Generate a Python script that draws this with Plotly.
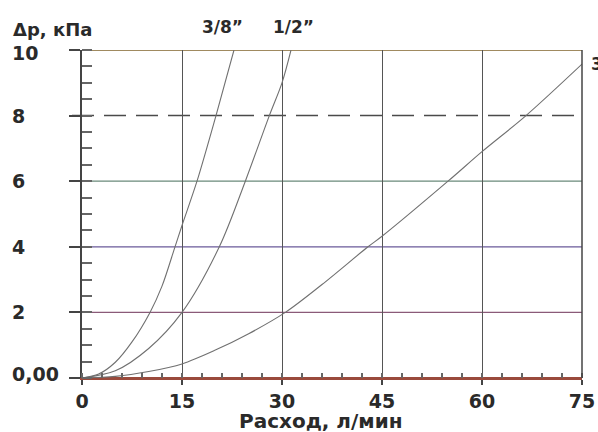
import plotly.graph_objects as go

# Data
q_38 = [0, 2.5, 5, 7.5, 10.2, 12, 13.95, 15, 17.25, 20.1, 22.8]
dp_38 = [0, 0.12, 0.48, 1.1, 2, 2.8, 4, 4.65, 6, 8, 10]

q_12 = [0, 5, 10, 15, 20.6, 24.5, 28.1, 30, 31.35]
dp_12 = [0, 0.22, 0.9, 2, 4, 6, 8, 9, 10]

q_34 = [0, 5, 10, 15, 20, 25, 30.5, 36, 42.9, 45, 54.9, 60, 66.6, 75]
dp_34 = [0, 0.05, 0.2, 0.43, 0.85, 1.35, 2, 2.85, 4, 4.32, 6, 6.9, 8, 9.57]

series_names = ["3/8”", "1/2”", "3/4”"]
label_x = [21.0, 31.7]

x_ticks = [0, 15, 30, 45, 60, 75]
y_levels = [0, 2, 4, 6, 10]
y_level_colors = ["#9a4a3c", "#8a5a78", "#6a5a9a", "#6a8a7a", "#a08a60"]
y_labels = ["0,00", "2", "4", "6", "8", "10"]
y_label_vals = [0, 2, 4, 6, 8, 10]
limit_dp = 8

FONT = "DejaVu Sans"
CURVE = "#707070"
TXT = "#2a2a2a"

fig = go.Figure()
for q, dp, name in zip([q_38, q_12, q_34], [dp_38, dp_12, dp_34], series_names):
    fig.add_trace(go.Scatter(x=q, y=dp, mode="lines", name=name,
                             line=dict(color=CURVE, width=1.1, shape="spline", smoothing=0.9),
                             showlegend=False))

shapes = []
for lv, col in zip(y_levels, y_level_colors):
    shapes.append(dict(type="line", xref="paper", yref="y", x0=0, x1=1, y0=lv, y1=lv,
                       line=dict(color=col, width=1.8 if lv in (0, 10) else 1.2), layer="below"))
shapes.append(dict(type="line", xref="paper", yref="y", x0=-0.02, x1=1, y0=limit_dp, y1=limit_dp,
                   line=dict(color="#4a4a4a", width=1.5, dash="22px,10px"), layer="below"))
shapes.append(dict(type="line", xref="paper", yref="paper", x0=1, x1=1, y0=0, y1=1,
                   line=dict(color="#444444", width=1.5)))

annotations = []
for t, v in zip(y_labels, y_label_vals):
    annotations.append(dict(text="<b>%s</b>" % t, xref="paper", yref="y", x=0, y=v,
                            xanchor="left", yanchor="middle", xshift=-72,
                            yshift=4 if v == 0 else (-3 if v == 10 else 0), showarrow=False,
                            font=dict(family=FONT, size=19, color=TXT)))
annotations.append(dict(text="<b>Δp, кПа</b>", xref="paper", yref="paper", x=0, y=1,
                        xanchor="left", yanchor="middle", xshift=-71, yshift=21,
                        showarrow=False, font=dict(family=FONT, size=18, color=TXT)))
for lx, nm in zip(label_x, series_names[:2]):
    annotations.append(dict(text="<b>%s</b>" % nm, xref="x", yref="paper", x=lx, y=1,
                            xanchor="center", yanchor="middle", yshift=23,
                            showarrow=False, font=dict(family=FONT, size=17, color=TXT)))
annotations.append(dict(text="<b>%s</b>" % series_names[2], xref="x", yref="y", x=q_34[-1], y=dp_34[-1],
                        xanchor="left", yanchor="middle", xshift=7,
                        showarrow=False, font=dict(family=FONT, size=17, color=TXT)))
annotations.append(dict(text="<b>Расход, л/мин</b>", xref="paper", yref="paper", x=0.5, y=0,
                        xanchor="center", yanchor="middle", yshift=-43, xshift=-11,
                        showarrow=False, font=dict(family=FONT, size=20, color=TXT)))

fig.update_layout(
    width=598, height=432,
    margin=dict(l=82, r=16, t=50, b=54, autoexpand=False),
    paper_bgcolor="white", plot_bgcolor="white",
    shapes=shapes, annotations=annotations,
    xaxis=dict(range=[0, 75], tickvals=x_ticks, ticktext=["<b>%d</b>" % v for v in x_ticks],
               automargin=False,
               showgrid=True, gridcolor="#555555", gridwidth=1, zeroline=False,
               showline=True, linecolor="#9a4a3c", linewidth=2,
               ticks="outside", ticklen=5, tickcolor="#444444", tickwidth=1.5,
               ticklabeloverflow="allow",
               minor=dict(dtick=3, ticks="inside", ticklen=5, tickcolor="#666666", showgrid=False),
               tickfont=dict(family=FONT, size=19, color=TXT)),
    yaxis=dict(range=[0, 10], tickvals=y_label_vals, showticklabels=False,
               automargin=False,
               showgrid=False, zeroline=False,
               showline=True, linecolor="#444444", linewidth=1.5,
               ticks="outside", ticklen=11, tickcolor="#444444", tickwidth=1.5,
               minor=dict(dtick=0.5, ticks="inside", ticklen=10, tickcolor="#666666", showgrid=False)),
)

fig.write_html("out.html", config={"displayModeBar": False},
               post_script="document.body.style.margin='0px';")
